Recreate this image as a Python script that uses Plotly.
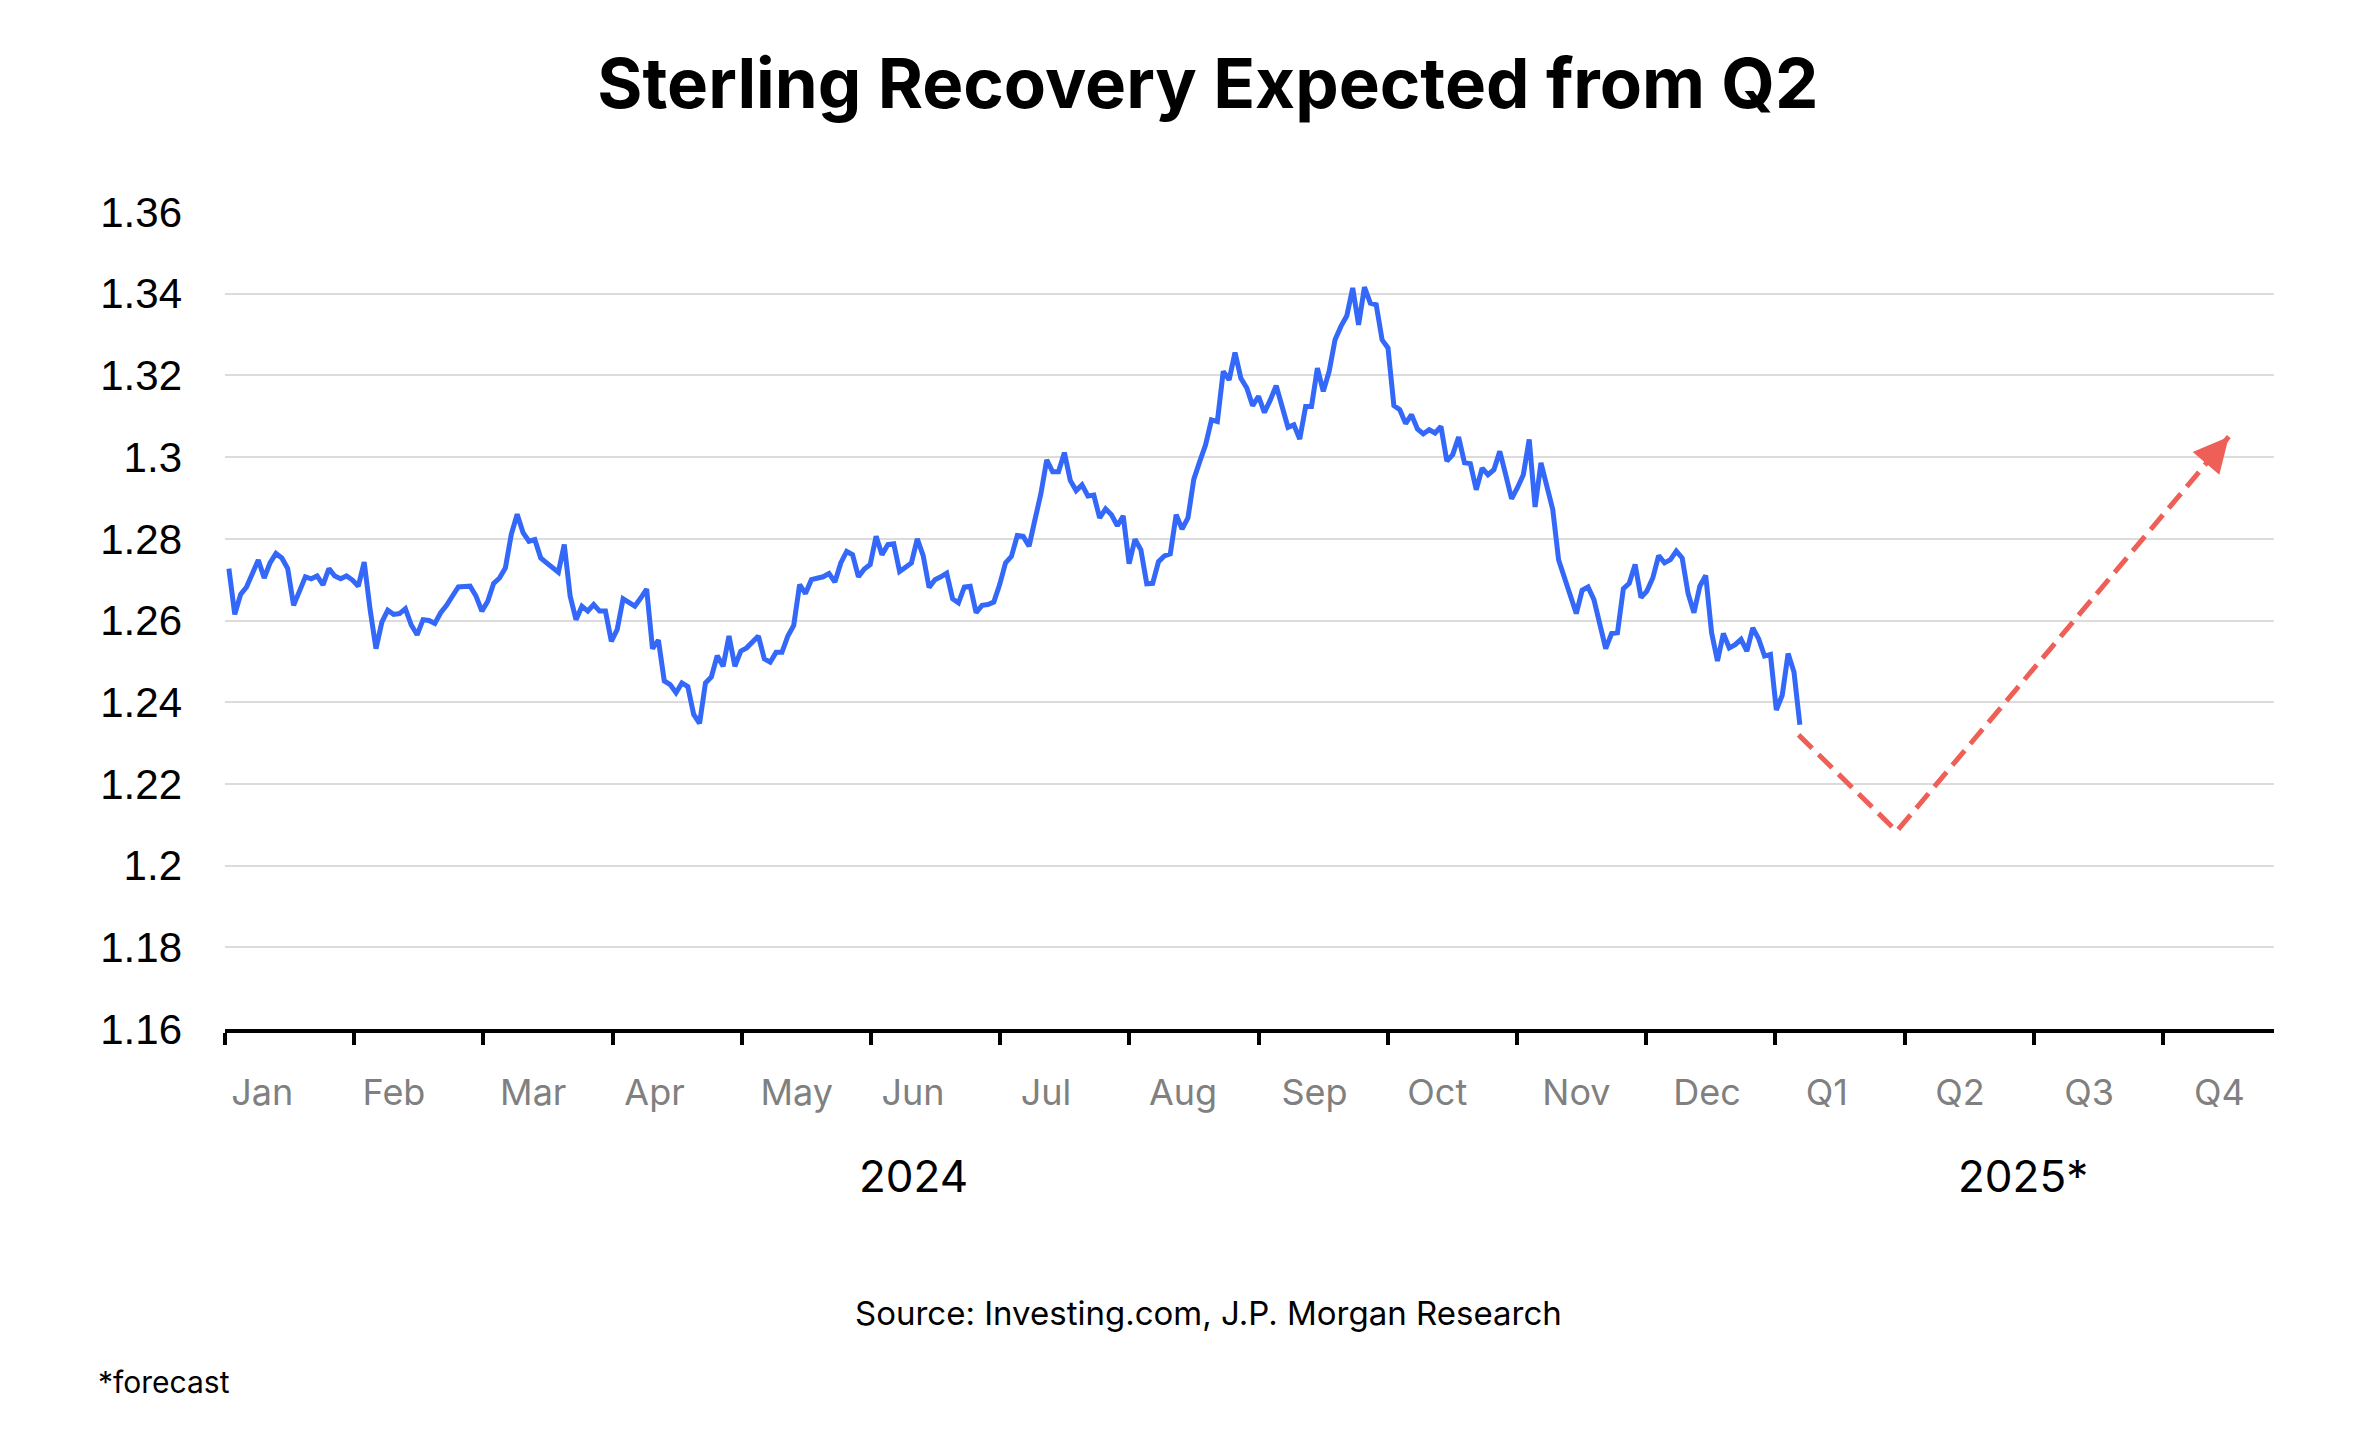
import plotly.graph_objs as go
import numpy as np

# GBP/USD daily close, 1 Jan 2024 - 8 Jan 2025
gbpusd = [
    1.2727, 1.2615, 1.2664, 1.2682, 1.2715, 1.2748, 1.2704, 1.2741, 1.2764, 1.2753,
    1.2727, 1.2637, 1.2672, 1.2707, 1.2702, 1.2709, 1.2687, 1.2727, 1.2709, 1.2702,
    1.2709, 1.2699, 1.2684, 1.2743, 1.2627, 1.2531, 1.2596, 1.2625, 1.2615, 1.2617,
    1.2629, 1.2589, 1.2565, 1.2602, 1.2600, 1.2593, 1.2619, 1.2637, 1.2660, 1.2682,
    1.2683, 1.2684, 1.2660, 1.2623, 1.2647, 1.2691, 1.2704, 1.2729, 1.2811, 1.2860,
    1.2815, 1.2794, 1.2798, 1.2753, 1.2741, 1.2729, 1.2718, 1.2786, 1.2660, 1.2602,
    1.2635, 1.2623, 1.2639, 1.2623, 1.2623, 1.2549, 1.2578, 1.2653, 1.2643, 1.2635,
    1.2655, 1.2677, 1.2531, 1.2552, 1.2452, 1.2443, 1.2423, 1.2447, 1.2438, 1.2370,
    1.2348, 1.2447, 1.2462, 1.2514, 1.2488, 1.2562, 1.2488, 1.2525, 1.2533, 1.2547,
    1.2562, 1.2506, 1.2498, 1.2522, 1.2522, 1.2562, 1.2588, 1.2688, 1.2666, 1.2700,
    1.2704, 1.2707, 1.2715, 1.2694, 1.2741, 1.2769, 1.2761, 1.2707, 1.2726, 1.2737,
    1.2806, 1.2761, 1.2786, 1.2788, 1.2720, 1.2729, 1.2741, 1.2800, 1.2759, 1.2681,
    1.2700, 1.2707, 1.2716, 1.2653, 1.2643, 1.2682, 1.2684, 1.2619, 1.2637, 1.2639,
    1.2645, 1.2688, 1.2741, 1.2757, 1.2808, 1.2806, 1.2782, 1.2847, 1.2910, 1.2993,
    1.2964, 1.2964, 1.3011, 1.2943, 1.2918, 1.2932, 1.2905, 1.2907, 1.2851, 1.2873,
    1.2859, 1.2832, 1.2856, 1.2739, 1.2799, 1.2773, 1.2690, 1.2691, 1.2744, 1.2758,
    1.2763, 1.2859, 1.2824, 1.2851, 1.2946, 1.2989, 1.3030, 1.3091, 1.3087, 1.3210,
    1.3189, 1.3256, 1.3193, 1.3169, 1.3126, 1.3149, 1.3109, 1.3140, 1.3175, 1.3124,
    1.3073, 1.3079, 1.3044, 1.3124, 1.3124, 1.3218, 1.3161, 1.3210, 1.3287, 1.3320,
    1.3346, 1.3414, 1.3324, 1.3416, 1.3377, 1.3373, 1.3287, 1.3267, 1.3126, 1.3116,
    1.3082, 1.3104, 1.3069, 1.3057, 1.3067, 1.3059, 1.3075, 1.2990, 1.3006, 1.3049,
    1.2986, 1.2984, 1.2920, 1.2973, 1.2957, 1.2969, 1.3014, 1.2957, 1.2898, 1.2925,
    1.2957, 1.3043, 1.2878, 1.2986, 1.2929, 1.2872, 1.2748, 1.2704, 1.2666, 1.2617,
    1.2674, 1.2682, 1.2651, 1.2586, 1.2531, 1.2568, 1.2570, 1.2678, 1.2691, 1.2737,
    1.2656, 1.2672, 1.2704, 1.2759, 1.2741, 1.2749, 1.2770, 1.2753, 1.2666, 1.2619,
    1.2684, 1.2710, 1.2570, 1.2501, 1.2568, 1.2533, 1.2541, 1.2554, 1.2525, 1.2582,
    1.2555, 1.2513, 1.2517, 1.2381, 1.2417, 1.2519, 1.2474, 1.2345,
]

# axis is split in periods: 12 months of 2024 then 4 quarters of 2025
periods = ["Jan", "Feb", "Mar", "Apr", "May", "Jun", "Jul", "Aug", "Sep", "Oct",
           "Nov", "Dec", "Q1", "Q2", "Q3", "Q4"]
years = ["2024", "2025*"]

# history runs from the start of Jan 2024 to early Jan 2025 (period units)
hist_start, hist_end = 0.03, 12.19
hist_x = np.linspace(hist_start, hist_end, len(gbpusd))

# J.P. Morgan forecast path (period units, rate)
forecast_x = [12.18, 12.94, 15.51]
forecast_y = [1.232, 1.2084, 1.305]

y_ticks = [1.16, 1.18, 1.20, 1.22, 1.24, 1.26, 1.28, 1.30, 1.32, 1.34, 1.36]

# where the period / year labels sit along the axis (layout, not data)
label_pos = [0.288, 1.308, 2.386, 3.325, 4.426, 5.325, 6.355, 7.415, 8.433, 9.383,
             10.461, 11.471, 12.399, 13.429, 14.429, 15.437]
year_pos = [5.33, 13.92]

BLUE = "#3368F8"
RED = "#EE5F57"
FONT = "Inter"

trace0 = go.Scatter(
    x=hist_x, y=gbpusd, mode="lines",
    line=dict(color=BLUE, width=5),
    showlegend=False, hoverinfo="skip",
)
trace1 = go.Scatter(
    x=forecast_x, y=forecast_y, mode="lines",
    line=dict(color=RED, width=5, dash="19px,9px"),
    showlegend=False, hoverinfo="skip",
)
# dummy trace so the label axis gets drawn
trace2 = go.Scatter(x=[0], y=[None], xaxis="x2", mode="markers",
                    showlegend=False, hoverinfo="skip")

layout = dict(
    width=2362, height=1426,
    paper_bgcolor="white", plot_bgcolor="white",
    margin=dict(l=217, r=96, t=204, b=405),
    font=dict(family=FONT, color="black"),
    title=dict(
        text="<b>Sterling Recovery Expected from Q2</b>",
        font=dict(family=FONT, size=69, color="black"),
        x=0.508, xanchor="center", y=0.9467, yanchor="middle",
    ),
    xaxis=dict(
        range=[0, 15.86],
        tickmode="array", tickvals=list(range(len(periods))), ticktext=[""] * len(periods),
        ticks="outside", ticklen=12, tickwidth=4, tickcolor="black",
        showline=True, linecolor="black", linewidth=4,
        showgrid=False, zeroline=False, fixedrange=True,
    ),
    xaxis2=dict(
        overlaying="x", anchor="y", side="bottom",
        range=[0, 15.86],
        tickmode="array", tickvals=label_pos, ticktext=periods,
        tickfont=dict(family=FONT, size=36, color="#808080"),
        ticks="", ticklabelstandoff=39,
        showline=False, showgrid=False, zeroline=False,
    ),
    yaxis=dict(
        range=[1.16, 1.36],
        tickmode="array", tickvals=y_ticks, ticktext=[f"{v:g}" for v in y_ticks],
        tickfont=dict(family="Liberation Sans", size=42, color="black"),
        ticks="", ticklabelstandoff=42,
        showgrid=True, gridcolor="#DCDCDC", gridwidth=2,
        showline=False, zeroline=False,
    ),
    annotations=[
        dict(x=year_pos[0], y=-0.216, xref="x", yref="paper", text=years[0],
             showarrow=False, font=dict(family=FONT, size=44, color="black")),
        dict(x=year_pos[1], y=-0.216, xref="x", yref="paper", text=years[1],
             showarrow=False, font=dict(family=FONT, size=44, color="black")),
        dict(x=0.480, y=-0.375, xref="paper", yref="paper",
             text="Source: Investing.com, J.P. Morgan Research",
             showarrow=False, font=dict(family=FONT, size=33, color="black")),
        dict(x=-0.063, y=-0.457, xref="paper", yref="paper", xanchor="left",
             text="*forecast", showarrow=False,
             font=dict(family=FONT, size=30, color="black")),
        # arrow head on the forecast path
        dict(x=forecast_x[-1], y=forecast_y[-1], xref="x", yref="y",
             ax=forecast_x[-1] - 0.1, ay=forecast_y[-1] - 0.0037, axref="x", ayref="y",
             text="", showarrow=True, arrowhead=2, arrowsize=1.4,
             arrowwidth=5, arrowcolor=RED),
    ],
)

fig = go.Figure(data=[trace0, trace1, trace2], layout=layout)
fig.write_html("out.html")
